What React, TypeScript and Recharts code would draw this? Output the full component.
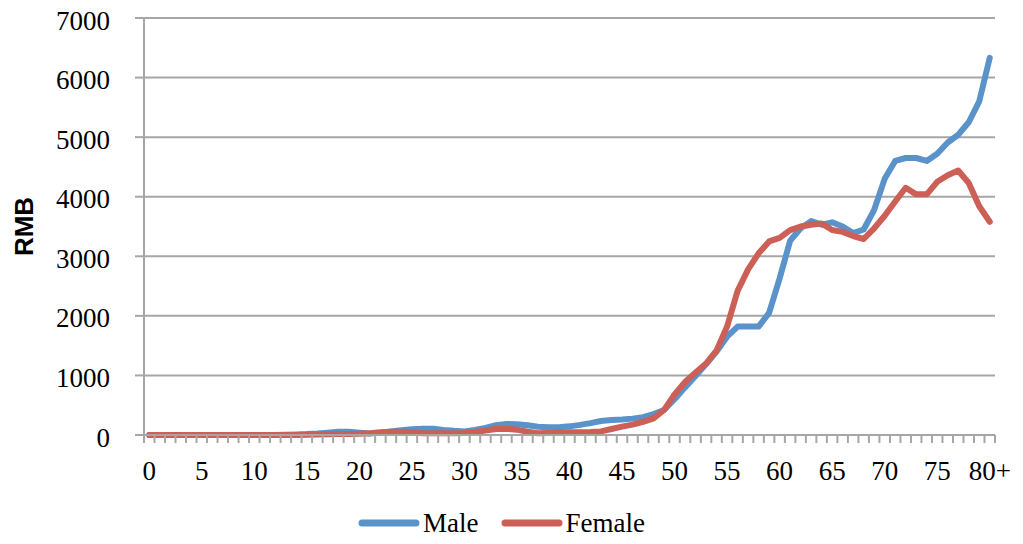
import { LineChart, Line, XAxis, YAxis, CartesianGrid, Legend } from 'recharts';

// age groups along the x axis
const ages = [
  '0', '1', '2', '3', '4', '5', '6', '7', '8', '9',
  '10', '11', '12', '13', '14', '15', '16', '17', '18', '19',
  '20', '21', '22', '23', '24', '25', '26', '27', '28', '29',
  '30', '31', '32', '33', '34', '35', '36', '37', '38', '39',
  '40', '41', '42', '43', '44', '45', '46', '47', '48', '49',
  '50', '51', '52', '53', '54', '55', '56', '57', '58', '59',
  '60', '61', '62', '63', '64', '65', '66', '67', '68', '69',
  '70', '71', '72', '73', '74', '75', '76', '77', '78', '79',
  '80+',
];

const male = [
  0, 0, 0, 0, 0, 0, 0, 0, 0, 0,
  0, 0, 0, 5, 10, 15, 25, 40, 55, 55,
  40, 25, 40, 60, 80, 95, 105, 105, 85, 70,
  60, 85, 120, 165, 185, 180, 165, 140, 130, 130,
  145, 170, 200, 235, 250, 260, 275, 300, 350, 420,
  600, 800, 990, 1190, 1400, 1650, 1820, 1820, 1820, 2050,
  2630, 3260, 3470, 3590, 3530, 3570, 3500, 3390, 3450, 3780,
  4300, 4600, 4650, 4650, 4600, 4720, 4910, 5040, 5250, 5600,
  6330,
];

const female = [
  0, 0, 0, 0, 0, 0, 0, 0, 0, 0,
  0, 0, 0, 0, 0, 5, 8, 12, 15, 15,
  20, 30, 45, 55, 55, 45, 30, 28, 28, 28,
  35, 50, 75, 100, 105, 90, 55, 30, 35, 40,
  45, 45, 50, 60, 100, 140, 175, 220, 280, 420,
  680, 890, 1050, 1200, 1420, 1820, 2420, 2780, 3050, 3250,
  3310, 3440, 3500, 3530, 3550, 3440, 3410, 3340, 3290, 3470,
  3680, 3920, 4150, 4040, 4040, 4250, 4360, 4440, 4230, 3840,
  3580,
];

const shownAges = ['0', '5', '10', '15', '20', '25', '30', '35', '40', '45', '50', '55', '60', '65', '70', '75', '80+'];
const yTicks = [0, 1000, 2000, 3000, 4000, 5000, 6000, 7000];

const data = ages.map((age, i) => ({ age, male: male[i], female: female[i] }));

const MALE_COLOR = '#5A92CA';
const FEMALE_COLOR = '#CC5F56';
const AXIS_COLOR = '#A6A6A6';
const FONT = '"Liberation Serif", "Times New Roman", serif';

const CHART_W = 1007;
const CHART_H = 536;
// the svg starts at the top of the page (body margin pulled back), so the top margin is 8px larger
const MARGIN = { top: 18, right: 20, left: 0, bottom: 0 };
const Y_AXIS_W = 136;
const HALF_BAND = (CHART_W - MARGIN.left - MARGIN.right - Y_AXIS_W) / ages.length / 2;
const X_TICK_SIZE = 8;
const X_TICK_MARGIN = 18;

function AgeTick(props: any) {
  const { x, y, payload } = props;
  const axisY = y - X_TICK_SIZE - X_TICK_MARGIN;
  const first = payload.index === 0;
  return (
    <g>
      <line x1={x + HALF_BAND} x2={x + HALF_BAND} y1={axisY} y2={axisY + X_TICK_SIZE} stroke={AXIS_COLOR} strokeWidth={2} />
      {first && (
        <line x1={x - HALF_BAND} x2={x - HALF_BAND} y1={axisY} y2={axisY + X_TICK_SIZE} stroke={AXIS_COLOR} strokeWidth={2} />
      )}
      {shownAges.includes(payload.value) && (
        <text x={x} y={y} dy="0.71em" textAnchor="middle" fill="#000" fontSize={27} fontFamily={FONT}>
          {payload.value}
        </text>
      )}
    </g>
  );
}

function RmbLabel(props: any) {
  const { viewBox } = props;
  const cx = viewBox.x + 16;
  const cy = viewBox.y + viewBox.height / 2;
  return (
    <text
      x={cx}
      y={cy}
      transform={`rotate(-90, ${cx}, ${cy})`}
      textAnchor="middle"
      dominantBaseline="central"
      fontFamily='"Liberation Sans", Arial, sans-serif'
      fontWeight="bold"
      fontSize={26}
      fill="#000"
    >
      RMB
    </text>
  );
}

function Swatch({ color }: { color: string }) {
  return (
    <svg width={62} height={12} style={{ display: 'block' }}>
      <line x1={4} x2={58} y1={6} y2={6} stroke={color} strokeWidth={7} strokeLinecap="round" />
    </svg>
  );
}

function LegendContent() {
  const items = [
    { name: 'Male', color: MALE_COLOR },
    { name: 'Female', color: FEMALE_COLOR },
  ];
  return (
    <div style={{ display: 'flex', justifyContent: 'center', alignItems: 'center', height: 26, gap: 22 }}>
      {items.map(item => (
        <div key={item.name} style={{ display: 'flex', alignItems: 'center', gap: 3 }}>
          <Swatch color={item.color} />
          <span style={{ fontFamily: FONT, fontSize: 27, lineHeight: '26px', color: '#000' }}>{item.name}</span>
        </div>
      ))}
    </div>
  );
}

export default function App() {
  return (
    <div style={{ width: CHART_W, height: CHART_H, marginTop: -8 }}>
      <LineChart width={CHART_W} height={CHART_H} data={data} margin={MARGIN}>
        <CartesianGrid vertical={false} stroke={AXIS_COLOR} strokeWidth={2} />
        <XAxis
          dataKey="age"
          scale="point"
          padding={{ left: HALF_BAND, right: HALF_BAND }}
          interval={0}
          height={75}
          axisLine={{ stroke: AXIS_COLOR, strokeWidth: 2 }}
          tickLine={false}
          tickSize={X_TICK_SIZE}
          tickMargin={X_TICK_MARGIN}
          tick={(p: any) => <AgeTick {...p} />}
        />
        <YAxis
          width={Y_AXIS_W}
          domain={[0, 7000]}
          ticks={yTicks}
          interval={0}
          axisLine={{ stroke: AXIS_COLOR, strokeWidth: 2 }}
          tickLine={{ stroke: AXIS_COLOR, strokeWidth: 2 }}
          tickSize={9}
          tickMargin={25}
          tick={{ fill: '#000', fontSize: 27, fontFamily: FONT, dy: 2 }}
          label={<RmbLabel />}
        />
        <Legend verticalAlign="bottom" align="center" content={() => <LegendContent />} />
        <Line
          type="linear"
          dataKey="male"
          name="Male"
          stroke={MALE_COLOR}
          strokeWidth={6}
          strokeLinecap="round"
          strokeLinejoin="round"
          dot={false}
          activeDot={false}
          isAnimationActive={false}
        />
        <Line
          type="linear"
          dataKey="female"
          name="Female"
          stroke={FEMALE_COLOR}
          strokeWidth={6}
          strokeLinecap="round"
          strokeLinejoin="round"
          dot={false}
          activeDot={false}
          isAnimationActive={false}
        />
      </LineChart>
    </div>
  );
}
